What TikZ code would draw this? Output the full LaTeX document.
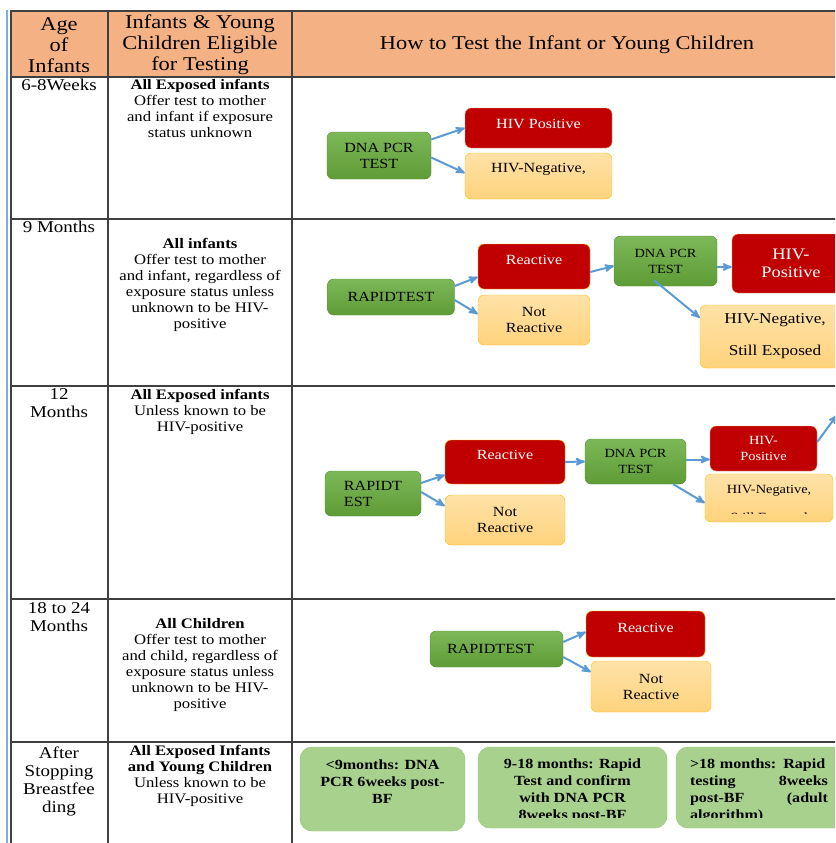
\documentclass[tikz,border=0pt]{standalone}
\usepackage{fontspec}
\setmainfont{Liberation Serif}[FakeStretch=1.15]
\usepackage{tikz}
\usetikzlibrary{shapes,arrows,calc,positioning}

\definecolor{hdr}{HTML}{F4B183}
\definecolor{grid}{HTML}{404040}
\definecolor{edgeblue}{HTML}{5B9BD5}
\definecolor{gtop}{HTML}{7DB858}
\definecolor{gbot}{HTML}{5E9C36}
\definecolor{gline}{HTML}{5A8A3C}
\definecolor{hivred}{HTML}{C00000}
\definecolor{ambline}{HTML}{FFC000}
\definecolor{ptop}{HTML}{FFE2A8}
\definecolor{pbot}{HTML}{FFD37C}
\definecolor{lgfill}{HTML}{A9D18E}
\definecolor{lgline}{HTML}{8DC26F}

\begin{document}
\begin{tikzpicture}[x=1pt, y=-1pt, >=stealth',
    tbox/.style={rectangle, rounded corners=6pt, align=center, inner sep=2pt,
      font=\fontsize{14}{16}\selectfont},
    testbox/.style={tbox, draw=gline, top color=gtop, bottom color=gbot},
    posbox/.style={tbox, draw=ambline, fill=hivred, text=white},
    negbox/.style={tbox, draw=ambline, top color=ptop, bottom color=pbot},
    bfbox/.style={tbox, rounded corners=12pt, draw=lgline, fill=lgfill},
    bftext/.style={align=center, inner sep=0pt, font=\bfseries\fontsize{14}{17}\selectfont},
    sz/.style 2 args={minimum width=#1, minimum height=#2},
    lift/.style={text height=9pt, text depth=#1},
    flow/.style={->, color=edgeblue, line width=2pt},
    agetext/.style={anchor=north, inner sep=0pt, align=center, font=\fontsize{16.5}{18}\selectfont},
    whotext/.style={anchor=north, inner sep=0pt, align=center, font=\fontsize{14.5}{16}\selectfont},
    hdtext/.style={align=center, inner sep=0pt, font=\fontsize{19.5}{21}\selectfont}]

  \path[use as bounding box, clip] (0,0) rectangle (835,843);
  \fill[white] (0,0) rectangle (835,843);

  % table
  \fill[hdr] (11,11) rectangle (850,77);
  \draw[edgeblue!80, line width=1.5pt] (7,10) -- (7,850);
  \draw[grid, line width=1.2pt] (11,850) -- (11,11) -- (850,11);
  \foreach \y in {77,219,386,599,742}
    \draw[grid, line width=1.2pt] (11,\y) -- (850,\y);
  \foreach \x in {108,292}
    \draw[grid, line width=1.2pt] (\x,11) -- (\x,850);

  \node[hdtext] (h1) at (59,45) {Age\\of\\Infants};
  \node[hdtext] (h2) at (200,45) {Infants \& Young\\Children Eligible\\for Testing};
  \node[hdtext] (h3) at (567,45) {How to Test the Infant or Young Children};

  % 6-8 weeks
  \node[agetext] (a1) at (59,79) {6-8Weeks};
  \node[whotext] (w1) at (200,79) {\textbf{All Exposed infants}\\Offer test to mother\\and infant if exposure\\status unknown};
  \node[testbox, sz={104pt}{47pt}] (pcr1) at (379,155.5) {DNA PCR\\TEST};
  \node[posbox, draw=hdr, sz={147pt}{40pt}, lift=8pt] (pos1) at (538.5,128) {HIV Positive};
  \node[negbox, sz={147pt}{46pt}, lift=16pt] (neg1) at (538.5,176) {HIV-Negative,};
  \path[flow] ([yshift=16pt]pcr1.east) edge (pos1.west)
              ([yshift=-2pt]pcr1.east) edge ([yshift=3pt]neg1.west);

  % 9 months
  \node[agetext] (a2) at (59,221) {9 Months};
  \node[whotext] (w2) at (200,238) {\textbf{All infants}\\Offer test to mother\\and infant, regardless of\\exposure status unless\\unknown to be HIV-\\positive};
  \node[testbox, sz={127pt}{36pt}] (rt2) at (391,297) {RAPIDTEST};
  \node[posbox, sz={112pt}{45pt}, lift=13pt] (re2) at (534,266.5) {Reactive};
  \node[negbox, sz={112pt}{50pt}] (nr2) at (534,320) {Not\\Reactive};
  \node[testbox, sz={103pt}{50pt}, font=\fontsize{12.5}{16}\selectfont] (pcr2) at (665.5,261) {DNA PCR\\TEST};
  \node[posbox, draw=hdr, sz={118pt}{59pt}, font=\fontsize{16}{18}\selectfont] (pos2) at (791,263.5) {HIV-\\Positive};
  \node[negbox, sz={150pt}{63pt}, font=\fontsize{15}{17}\selectfont] (neg2) at (775,336.5) {HIV-Negative,\\[15pt]Still Exposed};
  \path[flow] ([yshift=11pt]rt2.east) edge ([yshift=-10.5pt]re2.west)
              ([yshift=-3pt]rt2.east) edge ([yshift=6pt]nr2.west)
              ([yshift=-5.5pt]re2.east) edge ([yshift=-5pt]pcr2.west)
              ([yshift=-6pt]pcr2.east) edge ([yshift=-3.5pt]pos2.west)
              ([xshift=-11.5pt, yshift=6pt]pcr2.south) edge ([yshift=-13pt]neg2.north west);

  % 12 months
  \node[agetext] (a3) at (59,388) {12\\Months};
  \node[whotext] (w3) at (200,389) {\textbf{All Exposed infants}\\Unless known to be\\HIV-positive};
  \node[testbox, sz={96pt}{45pt}, align=left] (rt3) at (373,493.5) {RAPIDT\\EST};
  \node[posbox, sz={120pt}{44pt}, lift=14pt] (re3) at (505,462) {Reactive};
  \node[negbox, sz={120pt}{50pt}] (nr3) at (505,520) {Not\\Reactive};
  \node[testbox, sz={101pt}{45pt}, font=\fontsize{12.5}{16}\selectfont] (pcr3) at (635.5,461.5) {DNA PCR\\TEST};
  \node[posbox, draw=hdr, sz={107pt}{45pt}, font=\fontsize{12.5}{16}\selectfont] (pos3) at (763.5,448.5) {HIV-\\Positive};
  \node[negbox, sz={128pt}{48pt}, lift=18pt, font=\fontsize{12.5}{15}\selectfont] (neg3) at (769,498) {HIV-Negative,};
  \begin{scope}
    \clip (neg3.north west) rectangle ([yshift=9pt]neg3.south east);
    \node[font=\fontsize{12.5}{15}\selectfont] (still3) at (769,518) {Still Exposed};
  \end{scope}
  \coordinate (up3) at (837,415);
  \path[flow] ([yshift=10.5pt]rt3.east) edge ([yshift=-13pt]re3.west)
              ([yshift=1.5pt]rt3.east) edge ([yshift=14pt]nr3.west)
              (re3.east) edge (pcr3.west)
              ([yshift=2pt]pcr3.east) edge ([yshift=-11pt]pos3.west)
              ([xshift=-13pt]pcr3.south east) edge ([yshift=-5pt]neg3.west)
              ([yshift=6.5pt]pos3.east) edge (up3);

  % 18 to 24 months
  \node[agetext] (a4) at (59,602) {18 to 24\\Months};
  \node[whotext] (w4) at (200,618) {\textbf{All Children}\\Offer test to mother\\and child, regardless of\\exposure status unless\\unknown to be HIV-\\positive};
  \node[testbox, sz={133pt}{36pt}] (rt4) at (496.5,649) {RAPIDTEST\hspace*{12pt}};
  \node[posbox, sz={119pt}{46pt}, lift=12pt] (re4) at (645.5,634) {Reactive};
  \node[negbox, sz={120pt}{51pt}] (nr4) at (651,686.5) {Not\\Reactive};
  \path[flow] ([yshift=7pt]rt4.east) edge ([yshift=2pt]re4.west)
              ([yshift=-8pt]rt4.east) edge ([yshift=14.5pt]nr4.west);

  % after breastfeeding
  \node[agetext] (a5) at (59,747) {After\\Stopping\\Breastfee\\ding};
  \node[whotext] (w5) at (200,745) {\textbf{All Exposed Infants}\\\textbf{and Young Children}\\Unless known to be\\HIV-positive};
  \node[bfbox, sz={165pt}{84pt}] (bf1) at (382.5,789) {};
  \node[bfbox, sz={189pt}{81pt}] (bf2) at (572.5,787.5) {};
  \node[bfbox, sz={174pt}{81pt}] (bf3) at (763,787.5) {};
  \node[bftext] (t1) at (382.5,782) {<9months: DNA\\PCR 6weeks post-\\BF};
  \begin{scope}
    \clip (bf2.north west) rectangle ([yshift=11pt]bf3.south east);
    \node[bftext] (t2) at (572.5,790.5) {9-18 months: Rapid\\Test and confirm\\with DNA PCR\\8weeks post-BF};
    \node[bftext, text width=138pt, align=left] (t3) at (759,790.5) {>18 months: Rapid\\testing\hfill 8weeks\\post-BF\hfill (adult\\algorithm)};
  \end{scope}
\end{tikzpicture}
\end{document}
